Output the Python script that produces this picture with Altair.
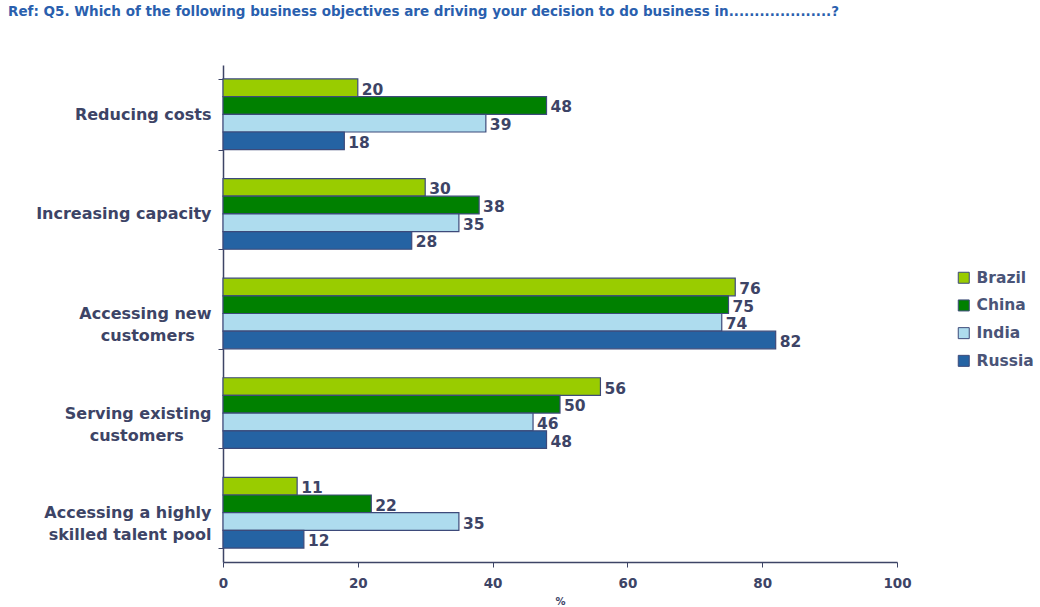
import altair as alt
import pandas as pd

NB = "\u00a0"
ZW = "\u200b"
categories = ["Reducing costs", "Increasing capacity", "Accessing new customers",
              "Serving existing customers", "Accessing a highly skilled talent pool"]
# '|' marks a line break in the axis labels; trailing no-break spaces centre the shorter line
cat_labels = ["Reducing costs", "Increasing capacity", "Accessing new|customers" + NB * 3 + ZW,
              "Serving existing|customers" + NB * 5 + ZW, "Accessing a highly|skilled talent pool"]
countries = ["Brazil", "China", "India", "Russia"]
brazil = [20, 30, 76, 56, 11]
china = [48, 38, 75, 50, 22]
india = [39, 35, 74, 46, 35]
russia = [18, 28, 82, 48, 12]
colors = ["#99cc00", "#008000", "#aedcee", "#2563a3"]
title_text = "Ref: Q5. Which of the following business objectives are driving your decision to do business in....................?"

rows = []
for i, c in enumerate(cat_labels):
    for k, (name, vals) in enumerate(zip(countries, [brazil, china, india, russia])):
        rows.append({"cat": c, "country": name, "order": k, "value": vals[i]})
df = pd.DataFrame(rows)

FONT = "DejaVu Sans"
TXT = "#3d4466"

y_enc = alt.Y("cat:N", sort=cat_labels,
              scale=alt.Scale(paddingInner=0.29, paddingOuter=0.14),
              axis=alt.Axis(title=None, labelExpr="split(datum.label, '|')",
                            labelFont=FONT, labelFontSize=16, labelFontWeight="bold",
                            labelColor=TXT, labelPadding=7, tickBand="extent",
                            tickSize=5, tickColor=TXT, domainColor=TXT,
                            labelLineHeight=22, domainWidth=1.5, labelLimit=300))
x_enc = alt.X("value:Q", scale=alt.Scale(domain=[0, 100]),
              axis=alt.Axis(values=[0, 20, 40, 60, 80, 100], title="%", grid=False,
                            labelFont=FONT, labelFontSize=13.5, labelFontWeight="bold",
                            labelColor=TXT, labelFlush=False, titleFont=FONT, titleFontSize=10,
                            titleFontWeight="bold", titleColor=TXT, titlePadding=7,
                            tickSize=5, tickColor=TXT, domainColor=TXT,
                            labelPadding=9, domainWidth=1.5))

bars = alt.Chart(df).mark_bar(stroke="#3d4a7a", strokeWidth=1.2).encode(
    y=y_enc,
    x=x_enc,
    yOffset=alt.YOffset("order:O"),
    color=alt.Color("country:N", sort=countries,
                    scale=alt.Scale(domain=countries, range=colors),
                    legend=alt.Legend(title=None, orient="none", legendX=733, legendY=205,
                                      symbolType="square", symbolSize=121,
                                      symbolStrokeColor="#3d4a7a", symbolStrokeWidth=1,
                                      labelFont=FONT, labelFontSize=15.5, labelFontWeight="bold",
                                      labelColor="#4a5478", rowPadding=10.7, labelOffset=5)),
)

labels = alt.Chart(df).mark_text(align="left", baseline="middle", dx=4, dy=2,
                                 font=FONT, fontSize=15.5, fontWeight="bold",
                                 color=TXT).encode(
    y=alt.Y("cat:N", sort=cat_labels),
    x="value:Q",
    yOffset=alt.YOffset("order:O"),
    text="value:Q",
)

title_txt = alt.Chart(pd.DataFrame({"t": [title_text]})).mark_text(
    align="left", baseline="middle", font=FONT, fontSize=13.5, fontWeight="bold",
    color="#2a5fae").encode(text="t:N", x=alt.value(-215), y=alt.value(-53))

chart = alt.layer(bars, labels, title_txt).properties(
    width=674, height=497,
    autosize=alt.AutoSizeParams(type="none"),
    padding={"left": 223, "top": 65, "right": 143, "bottom": 45},
).configure_view(stroke=None)

chart.save("out.html", embed_options={"renderer": "svg", "actions": False})
